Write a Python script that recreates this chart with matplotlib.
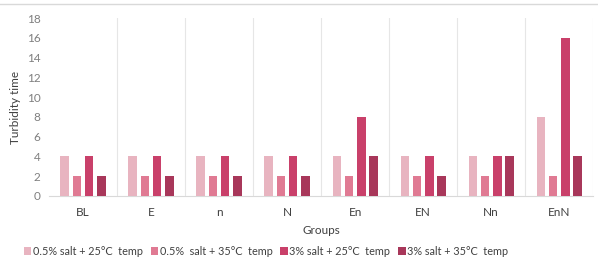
import matplotlib
matplotlib.use("Agg")
import matplotlib.pyplot as plt
import numpy as np
from matplotlib.lines import Line2D

categories = ["BL", "E", "n", "N", "En", "EN", "Nn", "EnN"]
series_names = ["0.5% salt + 25°C  temp", "0.5%  salt + 35°C  temp",
                "3% salt + 25°C  temp", "3% salt + 35°C  temp"]
s1 = [4, 4, 4, 4, 4, 4, 4, 8]
s2 = [2, 2, 2, 2, 2, 2, 2, 2]
s3 = [4, 4, 4, 4, 8, 4, 4, 16]
s4 = [2, 2, 2, 2, 4, 2, 4, 4]
colors = ["#E8B4C0", "#E07A93", "#C9406A", "#A8375A"]

plt.rcParams['font.family'] = ['Lato', 'DejaVu Sans']
fig = plt.figure(figsize=(5.98, 2.62), dpi=100)
ax = fig.add_axes([0.082, 0.252, 0.910, 0.679])

x = np.arange(len(categories))
bw = 0.125
step = 0.18
for i, (vals, c, name) in enumerate(zip([s1, s2, s3, s4], colors, series_names)):
    ax.bar(x + (i - 1.5) * step, vals, bw, color=c, label=name, zorder=3)

ax.set_xlim(-0.5, len(categories) - 0.5)
ax.set_ylim(0, 18)
ax.set_yticks(range(0, 19, 2))
ax.set_xticks(x)
ax.set_xticklabels(categories)
for b in np.arange(0.5, len(categories) - 0.5 + 0.01, 1):
    ax.axvline(b, color="#E6E6E6", lw=0.8, zorder=1)
ax.tick_params(axis='both', length=0, labelsize=8.5)
ax.tick_params(axis='y', colors="#7F7F7F", pad=6)
ax.tick_params(axis='x', colors="#404040", pad=8)
for s in ["top", "right", "left"]:
    ax.spines[s].set_visible(False)
ax.spines["bottom"].set_color("#D9D9D9")
ax.set_ylabel("Turbidity time", fontsize=8.5, color="#404040", labelpad=4)
ax.set_xlabel("Groups", fontsize=8.5, color="#404040", labelpad=5)

fig.add_artist(Line2D([0, 1], [1 - 4 / 262, 1 - 4 / 262], color="#D9D9D9", lw=1))

fig.legend(loc="center", bbox_to_anchor=(0.445, 0.04), ncol=4, frameon=False,
           fontsize=7.8, handlelength=0.7, handleheight=0.7, handletextpad=0.15,
           columnspacing=0.7, labelcolor="#404040", borderpad=0)

fig.savefig("out.png", dpi=100)
